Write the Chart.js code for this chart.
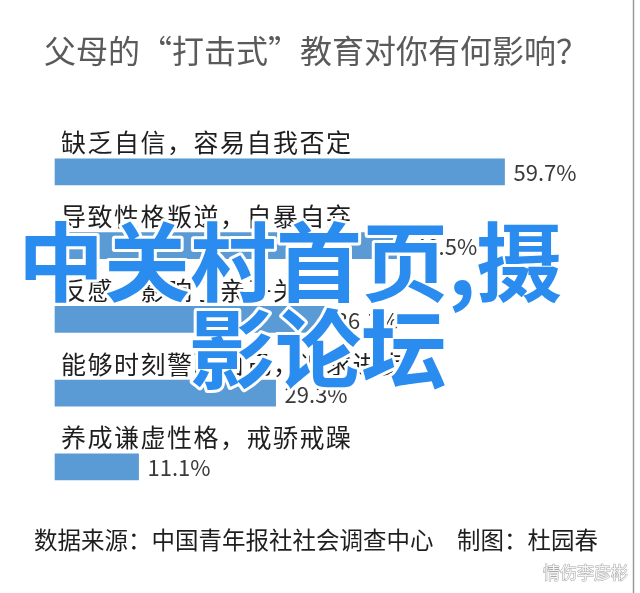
<!DOCTYPE html>
<html>
<head>
<meta charset="utf-8">
<script src="https://cdn.jsdelivr.net/npm/chart.js@4/dist/chart.umd.min.js"></script>
<style>
  html, body { margin: 0; padding: 0; background: #ffffff; }
  #wrap { position: relative; width: 640px; height: 593px; }
  canvas { display: block; }
</style>
</head>
<body>
<div id="wrap"><canvas id="c" width="640" height="593"></canvas></div>
<script>
const titleText = '父母的“打击式”教育对你有何影响？';
const footerText = '数据来源：中国青年报社社会调查中心　制图：杜园春';
const categories = [
  '缺乏自信，容易自我否定',
  '导致性格叛逆，自暴自弃',
  '反感，影响了亲子关系',
  '能够时刻警醒自己，追求进步',
  '养成谦虚性格，戒骄戒躁'
];
const values = [59.7, 46.5, 36.1, 29.3, 11.1];
const watermarkLines = ['中关村首页,摄', '影论坛'];
const cornerMark = '情伤李彦彬';

const CJK = '"Noto Sans CJK SC", "Noto Sans", sans-serif';

const labelPlugin = {
  id: 'barLabels',
  afterDatasetsDraw(chart) {
    const ctx = chart.ctx;
    const meta = chart.getDatasetMeta(0);
    ctx.save();
    meta.data.forEach((bar, i) => {
      ctx.font = '25px ' + CJK;
      ctx.letterSpacing = '1.5px';
      ctx.fillStyle = '#1e1e1e';
      ctx.textAlign = 'left';
      ctx.textBaseline = 'middle';
      ctx.fillText(chart.data.labels[i], 61, bar.y - 29);
      ctx.letterSpacing = '0px';
      ctx.font = '22px ' + CJK;
      ctx.fillStyle = '#3a3a3a';
      ctx.fillText(values[i].toFixed(1) + '%', bar.x + 9, bar.y + 1);
    });
    ctx.restore();
  },
  afterDraw(chart) {
    const ctx = chart.ctx;
    ctx.save();
    ctx.strokeStyle = '#9a9a9a';
    ctx.lineWidth = 1.5;
    ctx.beginPath();
    ctx.moveTo(633.5, 0);
    ctx.lineTo(633.5, 593);
    ctx.stroke();
    ctx.font = 'bold 86px ' + CJK;
    ctx.textAlign = 'left';
    ctx.textBaseline = 'middle';
    ctx.lineJoin = 'round';
    const pos = [[18, 262], [189, 349]];
    watermarkLines.forEach((t, i) => {
      ctx.strokeStyle = '#ffffff';
      ctx.lineWidth = 6;
      ctx.strokeText(t, pos[i][0], pos[i][1]);
      ctx.fillStyle = '#2b8cf0';
      ctx.fillText(t, pos[i][0], pos[i][1]);
    });
    ctx.font = '17px ' + CJK;
    ctx.textBaseline = 'middle';
    ctx.lineWidth = 1;
    ctx.strokeStyle = '#a8a8a8';
    ctx.strokeText(cornerMark, 543, 573);
    ctx.fillStyle = '#f4f4f4';
    ctx.fillText(cornerMark, 543, 573);
    ctx.restore();
  }
};

new Chart(document.getElementById('c'), {
  type: 'bar',
  data: {
    labels: categories,
    datasets: [{
      data: values,
      backgroundColor: '#5b9bd5',
      borderWidth: 0,
      barThickness: 26
    }]
  },
  options: {
    indexAxis: 'y',
    responsive: false,
    animation: false,
    devicePixelRatio: 1,
    layout: { padding: { top: 0, bottom: 0, left: 10, right: 18 } },
    scales: {
      x: { display: false, min: -5.976, max: 75.30 },
      y: { display: false }
    },
    plugins: {
      legend: { display: false },
      tooltip: { enabled: false },
      title: {
        display: true,
        text: titleText,
        color: '#5a5a5a',
        font: { family: CJK, size: 32, weight: 'normal', lineHeight: 1.2 },
        padding: { top: 32, bottom: 64.6 }
      },
      subtitle: {
        display: true,
        position: 'bottom',
        text: footerText,
        color: '#1e1e1e',
        font: { family: CJK, size: 23.5, weight: 'normal', lineHeight: 1.2 },
        padding: { top: 22, bottom: 39 }
      }
    }
  },
  plugins: [labelPlugin]
});
</script>
</body>
</html>
